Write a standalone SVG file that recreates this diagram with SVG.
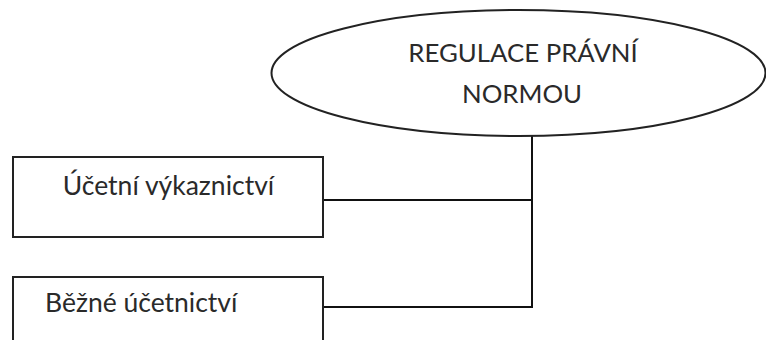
<svg xmlns="http://www.w3.org/2000/svg" width="766" height="340" viewBox="0 0 766 340">
<style>
.shape{fill:#fff;stroke:#222;stroke-width:2}
.conn{fill:none;stroke:#111;stroke-width:2}
.t{font-family:Lato,"Open Sans","Liberation Sans",sans-serif;fill:#2a2a2a}
.e{font-size:25.8px}
.b{font-size:26.5px}
</style>
<rect width="766" height="340" fill="#fff"/>
<g id="connectors">
<path class="conn" d="M532 136V307H323"/>
<path class="conn" d="M323 200H532"/>
</g>
<g id="regulace">
<ellipse class="shape" cx="518.5" cy="73" rx="247" ry="63"/>
<text class="t e" x="523" y="62" text-anchor="middle">REGULACE PRÁVNÍ</text>
<text class="t e" x="522" y="103" text-anchor="middle">NORMOU</text>
</g>
<g id="vykaznictvi">
<rect class="shape" x="13" y="157" width="310" height="80"/>
<text class="t b" x="168.5" y="195" text-anchor="middle">Účetní výkaznictví</text>
</g>
<g id="bezne">
<rect class="shape" x="13" y="277" width="310" height="80"/>
<text class="t b" x="45" y="312">Běžné účetnictví</text>
</g>
</svg>
